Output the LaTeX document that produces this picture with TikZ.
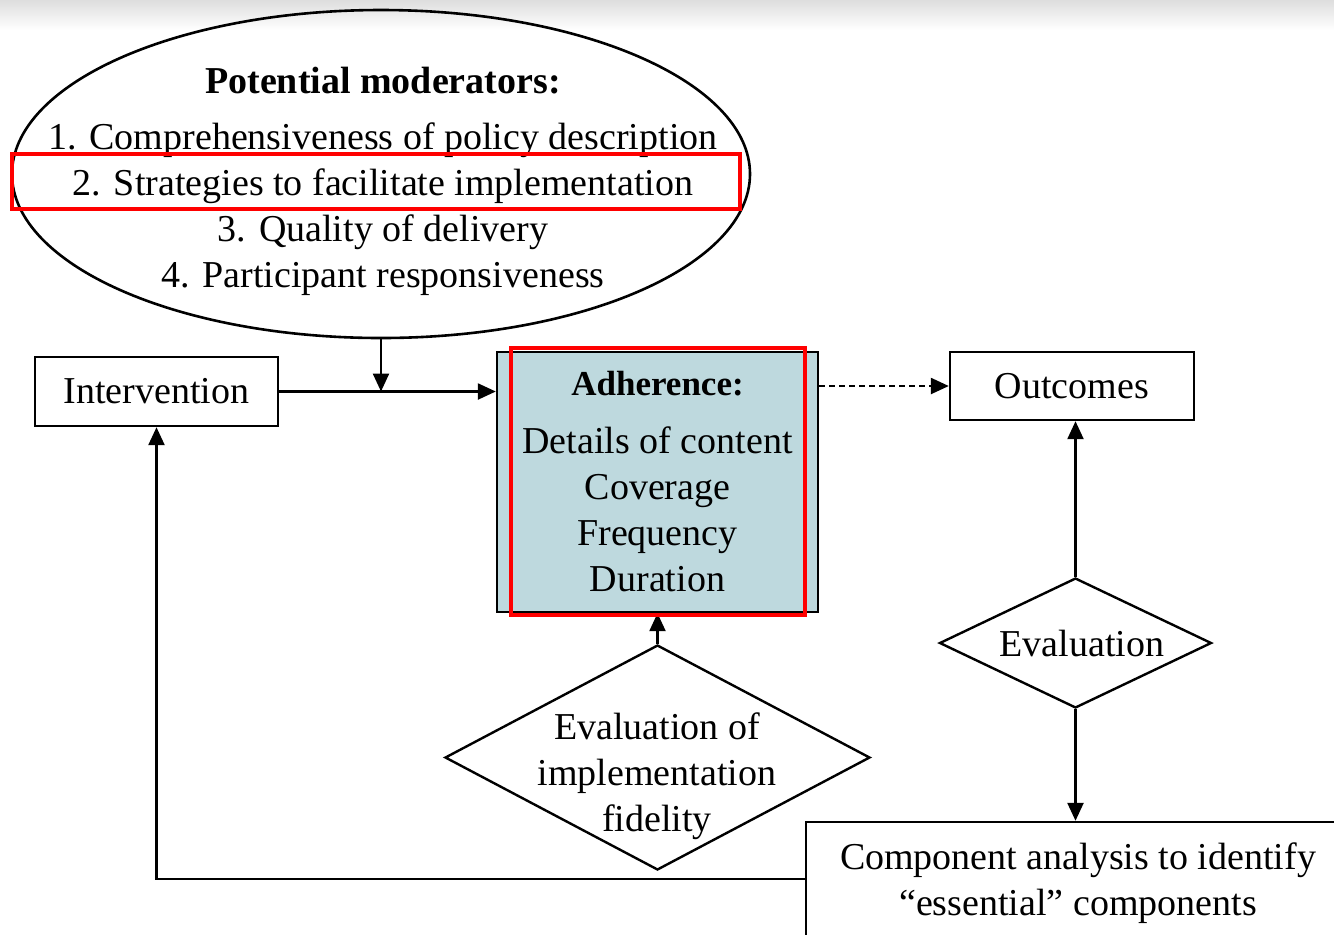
\documentclass[tikz,border=0pt]{standalone}
\usepackage{fontspec}
\setmainfont{Liberation Serif}
\usetikzlibrary{shapes.geometric,arrows.meta}
\definecolor{adhfill}{RGB}{190,217,222}
\begin{document}
\begin{tikzpicture}[x=0.5pt,y=-0.5pt,
  every node/.style={font=\fontsize{19}{23}\selectfont, align=center},
  box/.style={draw, line width=1.2pt, rectangle, inner sep=0pt},
  arr/.style={-{Triangle[length=9pt,width=8pt]}, line width=1.2pt},
  dia/.style={draw, diamond, line width=1.2pt, inner sep=0pt},
  hl/.style={draw=red, line width=2pt}]
\clip (0,0) rectangle (1334,934);
\fill[white] (0,0) rectangle (1334,934);
\shade[top color=black!13, bottom color=white] (0,0) rectangle (1334,30);

% moderators ellipse
\node[draw, ellipse, line width=1.3pt, inner sep=0pt, minimum width=369pt, minimum height=164pt] (mod) at (381,174) {};
\node (modtext) at (383,181) {\textbf{Potential moderators:}\\[5pt]
1. Comprehensiveness of policy description\\
2. Strategies to facilitate implementation\\
3. Quality of delivery\\
4. Participant responsiveness};

% boxes
\node[box, minimum width=121.5pt, minimum height=34.5pt] (int) at (156.5,391.5) {Intervention};
\node[box, fill=adhfill, minimum width=160.5pt, minimum height=130pt] (adh) at (657.5,482) {{\fontsize{17.5}{21}\selectfont\textbf{Adherence:}}\\[6pt]
Details of content\\ Coverage\\ Frequency\\ Duration};
\node[box, minimum width=122pt, minimum height=34pt] (out) at (1072,386) {Outcomes};
\node[box, minimum width=272pt, minimum height=61pt] (comp) at (1078,883) {Component analysis to identify\\ ``essential'' components};

% diamonds
\node[dia, minimum width=212.5pt, minimum height=112.5pt] (fid) at (657.5,757.5) {};
\node (fidtext) at (657,776) {Evaluation of\\ implementation\\ fidelity};
\node[dia, minimum width=136pt, minimum height=65pt] (eval) at (1075.5,643) {};
\node (evaltext) at (1082,643) {Evaluation};

% connectors
\coordinate (j) at (mod.south |- int.east);
\draw[arr] (int.east) -- (int.east -| adh.west);
\draw[arr] (mod.south) -- (j);
\draw[arr, dash pattern=on 3pt off 2pt] (out.west -| adh.east) -- (out.west);
\draw[arr] (eval.north) -- (eval.north |- out.south);
\draw[arr] (eval.south) -- (eval.south |- comp.north);
\draw[arr] (fid.north) -- (fid.north |- adh.south);
\draw[arr] ([yshift=2pt]comp.west) -| (int.south);

% highlight rectangles
\draw[hl] (12,154) rectangle (740,209);
\draw[hl] (511,348) rectangle (805,615);
\end{tikzpicture}
\end{document}
